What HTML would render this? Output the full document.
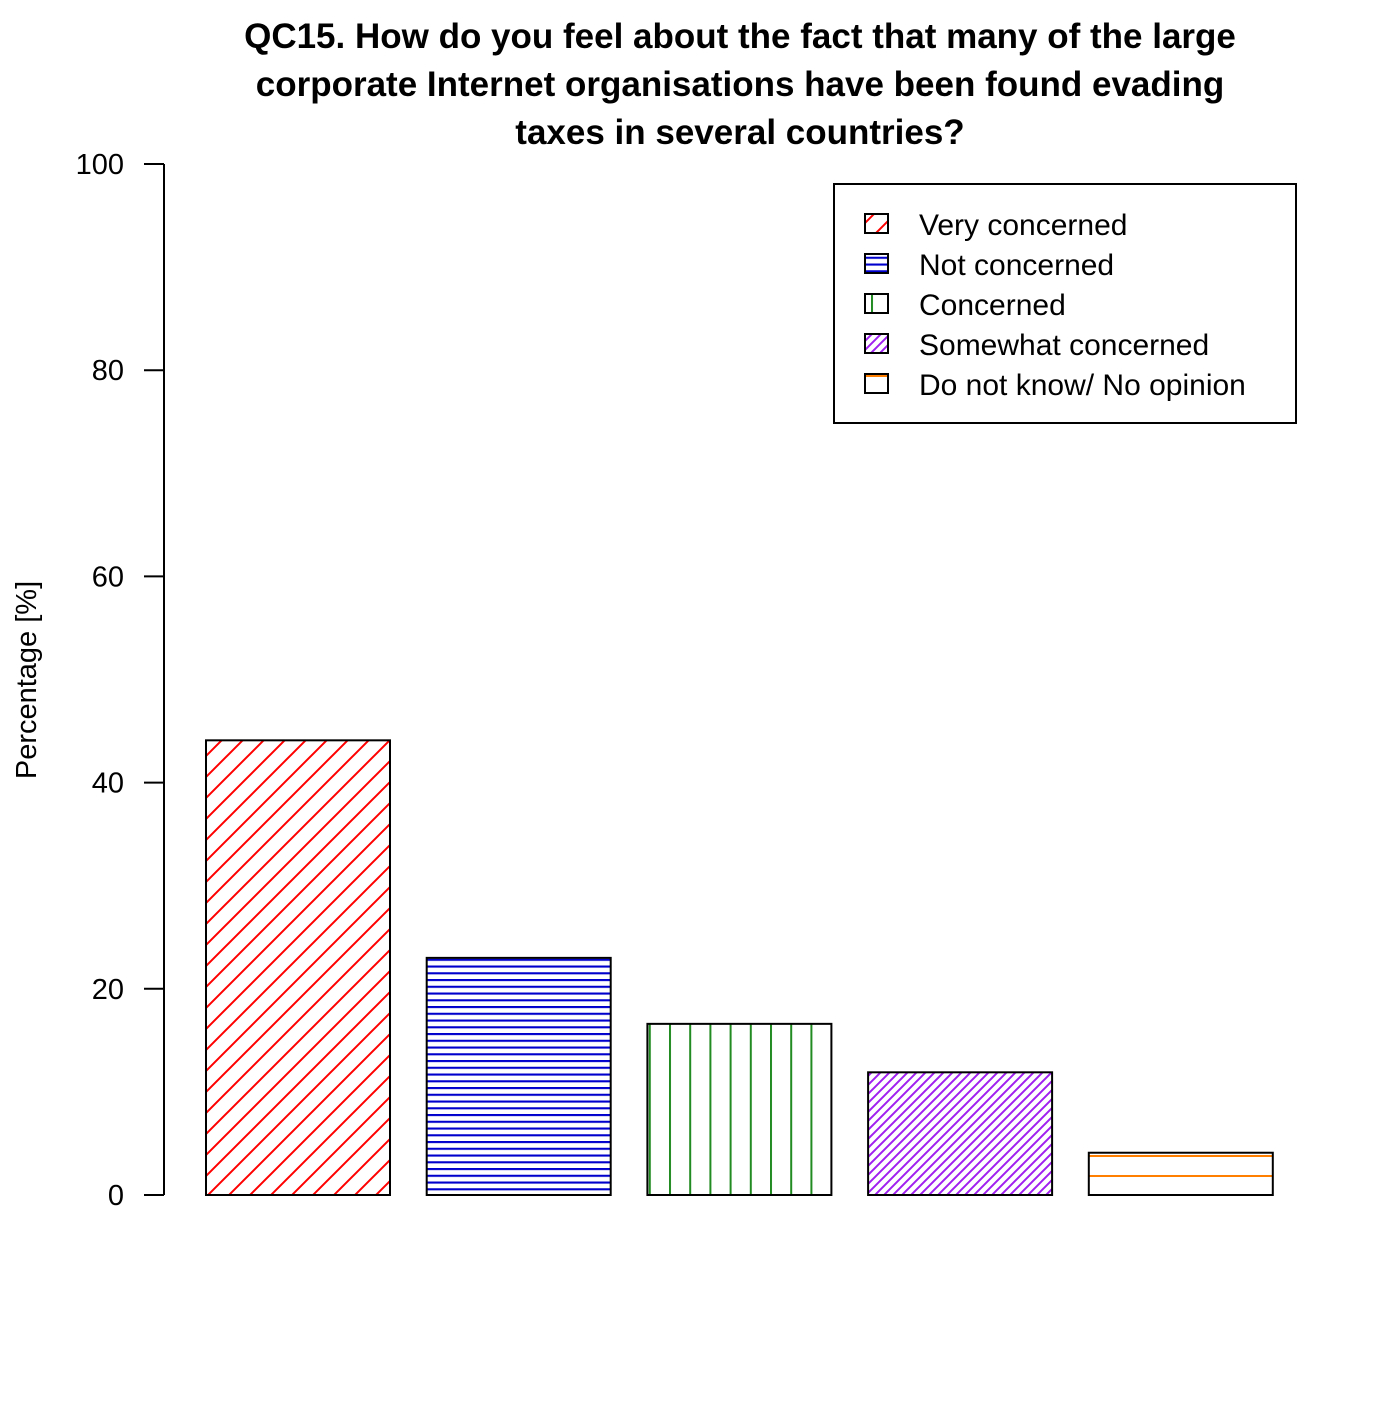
<!DOCTYPE html>
<html><head><meta charset="utf-8"><style>
body{margin:0;background:#fff}
svg text{font-family:"Liberation Sans",Arial,sans-serif}
</style></head><body>
<svg id="chart" width="1400" height="1400" viewBox="0 0 1400 1400" xmlns="http://www.w3.org/2000/svg">
<defs>
<pattern id="p0" patternUnits="userSpaceOnUse" width="21" height="21" x="206"><path d="M-1,22 L22,-1 M-11,11 L11,-11 M10,32 L32,10" stroke="#ff0000" stroke-width="2"/></pattern>
<pattern id="p1" patternUnits="userSpaceOnUse" width="10" height="6.75" y="1195"><line x1="0" y1="1" x2="10" y2="1" stroke="#0000cc" stroke-width="2.2"/></pattern>
<pattern id="p2" patternUnits="userSpaceOnUse" width="20.2" height="10" x="669"><line x1="1" y1="0" x2="1" y2="10" stroke="#228b22" stroke-width="2"/></pattern>
<pattern id="p3" patternUnits="userSpaceOnUse" width="9" height="9"><path d="M-1,10 L10,-1 M-5,5 L5,-5 M4,14 L14,4" stroke="#a020f0" stroke-width="2"/></pattern>
<pattern id="p4" patternUnits="userSpaceOnUse" width="10" height="20" y="1175"><line x1="0" y1="1" x2="10" y2="1" stroke="#ff7f00" stroke-width="2"/></pattern>
</defs>
<g font-weight="bold" font-size="35" text-anchor="middle">
<text x="740" y="48">QC15. How do you feel about the fact that many of the large</text>
<text x="740" y="96">corporate Internet organisations have been found evading</text>
<text x="740" y="144">taxes in several countries?</text>
</g>
<text x="36" y="680" font-size="29" text-anchor="middle" transform="rotate(-90 36 680)">Percentage [%]</text>
<g id="yaxis"></g>
<g id="bars"></g>
<g>
<rect x="834" y="184" width="462" height="239" fill="none" stroke="#000" stroke-width="2"/>
<g id="legend-items"></g>
</g>
</svg>
<script>
const categories=["Very concerned","Not concerned","Concerned","Somewhat concerned","Do not know/ No opinion"];
const values=[44.1,23.0,16.6,11.9,4.1];
const yTicks=[0,20,40,60,80,100];
const ns="http://www.w3.org/2000/svg";
function y(v){return 1195-v*10.31;}
function xb(i){return 206+i*220.7;}
const BW=184;
function mk(tag,attrs,parent){const e=document.createElementNS(ns,tag);for(const k in attrs)e.setAttribute(k,attrs[k]);parent.appendChild(e);return e;}
const ya=document.getElementById('yaxis');
mk('line',{x1:164,y1:y(0),x2:164,y2:y(100),stroke:'#000','stroke-width':2},ya);
yTicks.forEach(t=>{
  const l=mk('line',{x1:144,y1:y(t),x2:164,y2:y(t),stroke:'#000','stroke-width':2},ya);
  
  
  const tx=mk('text',{x:124,y:y(t)+10,'font-size':29,'text-anchor':'end'},ya);
  tx.textContent=t;
  
  
});
const bg=document.getElementById('bars');
values.forEach((v,i)=>{
  const r=mk('rect',{x:xb(i),y:y(v),width:BW,height:y(0)-y(v),fill:'url(#p'+i+')',stroke:'#000','stroke-width':2},bg);
  
  
});
const lg=document.getElementById('legend-items');
categories.forEach((c,i)=>{
  const yy=214+i*40;
  const r=mk('rect',{x:865,y:yy,width:23,height:19,fill:'url(#p'+i+')',stroke:'#000','stroke-width':2},lg);
  
  
  const t=mk('text',{x:919,y:yy+21,'font-size':30},lg);
  t.textContent=c;
  
  
});
</script>
</body></html>
